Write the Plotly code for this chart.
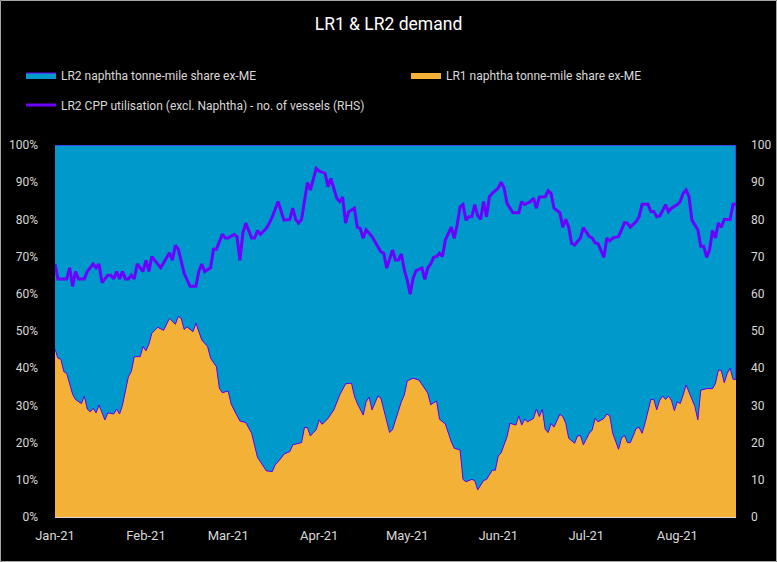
import plotly.graph_objects as go

# ---------------- data ----------------
share_dates = [
    "2021-01-01","2021-01-02","2021-01-03","2021-01-04","2021-01-05","2021-01-07","2021-01-08","2021-01-10",
    "2021-01-11","2021-01-12","2021-01-13","2021-01-14","2021-01-15","2021-01-16","2021-01-17","2021-01-18",
    "2021-01-19","2021-01-21","2021-01-22","2021-01-23","2021-01-24","2021-01-25","2021-01-26","2021-01-27",
    "2021-01-28","2021-01-30","2021-01-31","2021-02-01","2021-02-02","2021-02-03","2021-02-05","2021-02-07",
    "2021-02-09","2021-02-11","2021-02-12","2021-02-13","2021-02-14","2021-02-15","2021-02-17","2021-02-18",
    "2021-02-20","2021-02-22","2021-02-23","2021-02-25","2021-02-26","2021-02-27","2021-03-01","2021-03-02",
    "2021-03-03","2021-03-05","2021-03-07","2021-03-09","2021-03-11","2021-03-12","2021-03-14","2021-03-16",
    "2021-03-17","2021-03-19","2021-03-20","2021-03-22","2021-03-23","2021-03-26","2021-03-27","2021-03-28",
    "2021-03-29","2021-03-31","2021-04-01","2021-04-02","2021-04-03","2021-04-04","2021-04-06","2021-04-07",
    "2021-04-08","2021-04-10","2021-04-12","2021-04-13","2021-04-14","2021-04-16","2021-04-17","2021-04-18",
    "2021-04-19","2021-04-21","2021-04-22","2021-04-25","2021-04-26","2021-04-29","2021-04-30","2021-05-01",
    "2021-05-03","2021-05-05","2021-05-08","2021-05-09","2021-05-11","2021-05-12","2021-05-14","2021-05-16",
    "2021-05-17","2021-05-19","2021-05-20","2021-05-21","2021-05-23","2021-05-24","2021-05-25","2021-05-27",
    "2021-05-28","2021-05-30","2021-05-31","2021-06-01","2021-06-02","2021-06-04","2021-06-05","2021-06-07",
    "2021-06-08","2021-06-09","2021-06-10","2021-06-11","2021-06-13","2021-06-14","2021-06-15","2021-06-16",
    "2021-06-17","2021-06-18","2021-06-19","2021-06-20","2021-06-22","2021-06-23","2021-06-24","2021-06-25",
    "2021-06-27","2021-06-28","2021-06-29","2021-06-30","2021-07-02","2021-07-03","2021-07-04","2021-07-05",
    "2021-07-07","2021-07-08","2021-07-09","2021-07-10","2021-07-12","2021-07-13","2021-07-14","2021-07-15",
    "2021-07-16","2021-07-18","2021-07-19","2021-07-20","2021-07-21","2021-07-23","2021-07-24","2021-07-25",
    "2021-07-26","2021-07-27","2021-07-28","2021-07-29","2021-07-30","2021-07-31","2021-08-01","2021-08-02",
    "2021-08-03","2021-08-04","2021-08-05","2021-08-07","2021-08-08","2021-08-09","2021-08-11","2021-08-13",
    "2021-08-14","2021-08-15","2021-08-16","2021-08-17","2021-08-18","2021-08-19","2021-08-20","2021-08-21",
]
lr1_share = [
    45.1,42.7,42.4,39.1,38.6,33.0,31.6,30.5,
    32.5,29.0,28.3,29.2,28.0,30.1,28.3,26.1,
    28.0,27.7,29.0,27.7,30.1,33.7,37.7,39.1,
    43.1,43.1,45.8,44.7,46.5,49.4,51.0,50.2,
    53.4,51.8,53.9,53.4,50.4,51.1,49.8,52.1,
    47.6,45.8,42.7,40.4,34.6,33.4,33.9,30.4,
    28.6,25.8,25.4,22.5,16.0,14.9,12.4,12.2,
    14.0,15.8,16.9,17.6,19.4,20.0,24.1,24.0,
    21.8,23.5,26.1,24.9,25.8,26.5,28.8,31.0,
    32.8,35.8,36.0,32.5,30.5,27.4,31.0,32.2,
    28.8,32.5,32.0,22.7,23.5,31.0,32.8,36.6,
    37.3,36.8,33.3,30.2,31.2,26.3,25.0,20.2,
    18.5,18.0,10.1,9.5,10.1,9.8,7.3,9.8,
    10.1,12.6,12.6,16.4,17.3,21.6,25.2,24.7,
    27.2,24.7,26.3,25.6,26.5,29.0,27.0,29.0,
    23.6,22.7,25.1,24.2,27.6,27.0,25.2,21.2,
    19.8,21.8,21.9,19.4,22.5,23.4,26.5,25.6,
    26.5,27.7,27.2,22.5,18.2,21.2,22.0,20.0,
    20.0,23.8,24.1,22.5,25.2,31.6,31.6,28.8,
    31.4,32.5,31.6,32.5,31.4,28.6,31.0,30.5,
    32.8,35.5,33.7,29.7,26.1,34.1,34.5,34.5,
    35.9,39.5,39.4,36.1,38.6,40.0,37.0,37.0,
]
# LR2 share is the remainder of the 100% stack
lr2_share = [round(100 - v, 1) for v in lr1_share]

util_dates = [
    "2021-01-01","2021-01-02","2021-01-05","2021-01-06","2021-01-07","2021-01-08","2021-01-09","2021-01-11",
    "2021-01-12","2021-01-14","2021-01-15","2021-01-16","2021-01-17","2021-01-19","2021-01-20","2021-01-21",
    "2021-01-22","2021-01-23","2021-01-24","2021-01-25","2021-01-26","2021-01-27","2021-01-28","2021-01-29",
    "2021-01-31","2021-02-01","2021-02-02","2021-02-03","2021-02-04","2021-02-06","2021-02-09","2021-02-10",
    "2021-02-11","2021-02-12","2021-02-14","2021-02-16","2021-02-18","2021-02-19","2021-02-20","2021-02-21",
    "2021-02-23","2021-02-24","2021-02-25","2021-02-27","2021-02-28","2021-03-01","2021-03-03","2021-03-04",
    "2021-03-05","2021-03-06","2021-03-07","2021-03-09","2021-03-10","2021-03-11","2021-03-12","2021-03-14",
    "2021-03-15","2021-03-16","2021-03-18","2021-03-19","2021-03-20","2021-03-22","2021-03-23","2021-03-24",
    "2021-03-25","2021-03-26","2021-03-28","2021-03-29","2021-03-31","2021-04-01","2021-04-03","2021-04-04",
    "2021-04-05","2021-04-07","2021-04-08","2021-04-09","2021-04-10","2021-04-11","2021-04-13","2021-04-14",
    "2021-04-15","2021-04-16","2021-04-17","2021-04-19","2021-04-21","2021-04-22","2021-04-23","2021-04-24",
    "2021-04-26","2021-04-27","2021-04-28","2021-04-29","2021-04-30","2021-05-01","2021-05-02","2021-05-03",
    "2021-05-04","2021-05-06","2021-05-07","2021-05-08","2021-05-09","2021-05-10","2021-05-11","2021-05-12",
    "2021-05-13","2021-05-14","2021-05-16","2021-05-17","2021-05-18","2021-05-19","2021-05-20","2021-05-21",
    "2021-05-22","2021-05-23","2021-05-24","2021-05-25","2021-05-26","2021-05-27","2021-05-28","2021-05-29",
    "2021-05-30","2021-06-01","2021-06-02","2021-06-03","2021-06-04","2021-06-06","2021-06-08","2021-06-09",
    "2021-06-10","2021-06-12","2021-06-13","2021-06-14","2021-06-15","2021-06-17","2021-06-18","2021-06-19",
    "2021-06-20","2021-06-22","2021-06-23","2021-06-24","2021-06-25","2021-06-26","2021-06-27","2021-06-29",
    "2021-06-30","2021-07-02","2021-07-03","2021-07-04","2021-07-05","2021-07-07","2021-07-08","2021-07-09",
    "2021-07-10","2021-07-12","2021-07-13","2021-07-14","2021-07-15","2021-07-16","2021-07-18","2021-07-19",
    "2021-07-20","2021-07-22","2021-07-23","2021-07-24","2021-07-25","2021-07-26","2021-07-27","2021-07-28",
    "2021-07-29","2021-07-30","2021-08-01","2021-08-02","2021-08-03","2021-08-04","2021-08-05","2021-08-06",
    "2021-08-08","2021-08-09","2021-08-10","2021-08-11","2021-08-12","2021-08-13","2021-08-14","2021-08-15",
    "2021-08-16","2021-08-17","2021-08-19","2021-08-20","2021-08-21",
]
lr2_utilisation = [
    68,64,64,67,62,66,64,64,
    66,68,67,68,63,65,65,64,
    66,64,66,64,64,65,64,68,
    66,69,66,70,69,67,71,69,
    73,72,65.5,62,62,66,68,66,
    67,72,72,76,75,75,76,75.4,
    69,76.3,79,75,75,77,76,77.6,
    79,80.6,84.8,82.5,79.8,80,83,80,
    79,80,89.9,87.9,93.7,93,92.4,88.8,
    91,85.7,84.8,86,79,82,83,77.9,
    77.6,74.9,77.2,75.4,72.8,71.3,70.9,66.9,
    71.8,69.1,69.1,70.7,66.4,63.7,59.9,64.2,
    66.2,66.9,63.9,67,68,69.8,70,70.9,
    70,74.5,77.9,74.9,78.5,83.4,84,79.8,
    80.7,80.7,84,81,80,84.8,80.7,86.1,
    87,88.4,90,88.4,84.3,81.8,81.8,84.8,
    84,84.8,85.7,83,86,86.1,87.7,87,
    83,81.8,77.9,80,77.9,73.6,73.1,75,
    77.8,75.4,75,73.7,73.5,69.8,75,74.2,
    75,75.4,77.2,79.1,79,77.9,79.4,80.7,
    84.1,84.1,82.1,82.1,80.7,80.9,82.3,84,
    82.1,83,84,84.8,87,87.9,86.1,79.8,
    77.2,72.8,72.8,69.8,71.8,77,75,79,
    77.9,80,80,84.1,84.1,
]

month_ticks = ["2021-01-01","2021-02-01","2021-03-01","2021-04-01",
               "2021-05-01","2021-06-01","2021-07-01","2021-08-01"]
month_labels = ["Jan-21","Feb-21","Mar-21","Apr-21","May-21","Jun-21","Jul-21","Aug-21"]
pct_ticks = [0,10,20,30,40,50,60,70,80,90,100]

# ---------------- styling ----------------
BLUE = "#0099CC"
ORANGE = "#F4B138"
PURPLE = "#6C00FF"
TXT = "#D9D9D9"
FONT = "Roboto"

fig = go.Figure()

# LR1 share (bottom of 100% stack)
fig.add_trace(go.Scatter(
    x=share_dates, y=lr1_share, name="LR1 naphtha tonne-mile share ex-ME",
    mode="lines", line=dict(width=0, color=ORANGE), fill="tozeroy",
    fillcolor=ORANGE, legend="legend2", hoverinfo="skip",
))

# LR2 share stacked on top of LR1 (polygon between LR1 and LR1+LR2)
stack_top = [a + b for a, b in zip(lr1_share, lr2_share)]
fig.add_trace(go.Scatter(
    x=share_dates + share_dates[::-1],
    y=stack_top + lr1_share[::-1],
    name="LR2 naphtha tonne-mile share ex-ME",
    mode="lines", line=dict(width=1, color=PURPLE), fill="toself",
    fillcolor=BLUE, legend="legend", hoverinfo="skip",
))

# LR2 CPP utilisation (RHS)
fig.add_trace(go.Scatter(
    x=util_dates, y=lr2_utilisation, yaxis="y2",
    name="LR2 CPP utilisation (excl. Naphtha) - no. of vessels (RHS)",
    mode="lines", line=dict(width=3, color=PURPLE), legend="legend3",
))

W, H = 777, 562
L, R, T, B = 55, 41, 145, 45
pw, ph = W - L - R, H - T - B

def px_x(p):
    return (p - L) / pw

def px_y(p):
    return (H - B - p) / ph

def legend_at(xpix, ypix):
    return dict(
        orientation="h", x=px_x(xpix), xanchor="left", y=px_y(ypix), yanchor="middle",
        bgcolor="rgba(0,0,0,0)", font=dict(size=12, color=TXT, family=FONT),
    )

fig.update_layout(
    width=W, height=H,
    margin=dict(l=L, r=R, t=T, b=B, autoexpand=False),
    paper_bgcolor="#000000", plot_bgcolor="#000000",
    font=dict(family=FONT, color=TXT, size=12),
    title=dict(text="LR1 &amp; LR2 demand", x=0.5, xanchor="center",
               y=1 - 24 / H, yanchor="middle",
               font=dict(family=FONT, size=17.5, color="#FFFFFF")),
    xaxis=dict(
        type="date", range=["2021-01-01", "2021-08-21"],
        tickvals=month_ticks, ticktext=month_labels,
        showgrid=False, zeroline=False, showline=True, linecolor="#D9D9D9", linewidth=1,
        ticks="", tickfont=dict(size=13, color=TXT), ticklabelstandoff=6,
    ),
    yaxis=dict(
        range=[0, 100], tickvals=pct_ticks, ticktext=[f"{v}%" for v in pct_ticks],
        showgrid=False, zeroline=False, showline=False, ticks="",
        tickfont=dict(size=12, color=TXT), ticklabelstandoff=16,
    ),
    yaxis2=dict(
        range=[0, 100], tickvals=pct_ticks, overlaying="y", side="right",
        showgrid=False, zeroline=False, showline=False, ticks="",
        tickfont=dict(size=12, color=TXT), ticklabelstandoff=14,
    ),
    legend=legend_at(21, 75),
    legend2=legend_at(406, 75),
    legend3=legend_at(21, 105),
    shapes=[dict(
        type="rect", xref="paper", yref="paper",
        x0=px_x(0.5), x1=px_x(W - 0.5), y0=px_y(H - 0.5), y1=px_y(0.5),
        line=dict(color="#A6A6A6", width=1), fillcolor="rgba(0,0,0,0)", layer="below",
    )],
    showlegend=True,
)

fig.write_html(
    "out.html",
    config={"displayModeBar": False},
    post_script="document.body.style.margin='0px';document.body.style.overflow='hidden';",
)
